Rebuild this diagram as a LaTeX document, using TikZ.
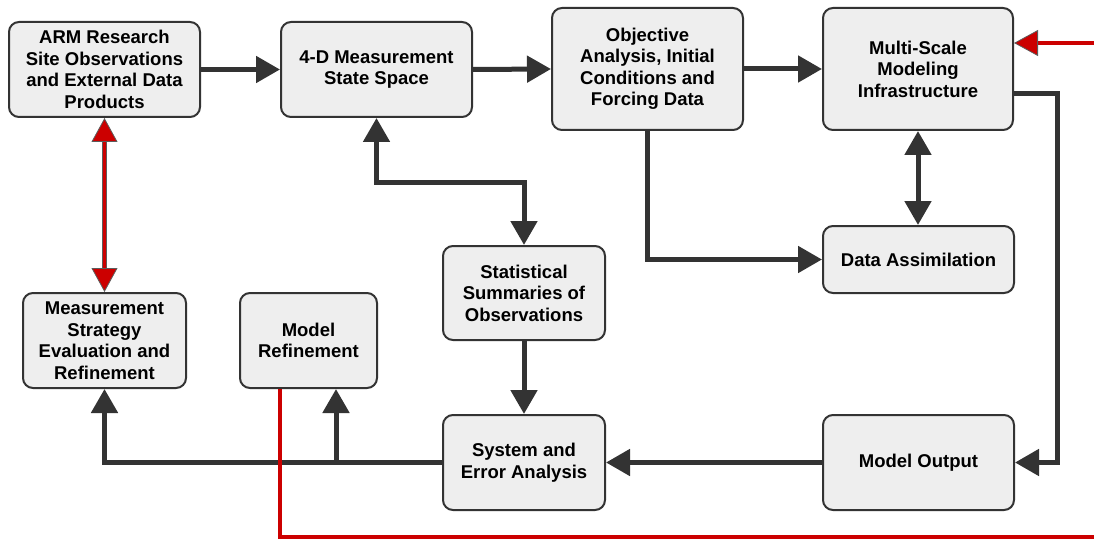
\documentclass[tikz,border=0pt]{standalone}
\usepackage{fontspec}
\setmainfont{Liberation Sans}
\usetikzlibrary{arrows.meta,calc}
\definecolor{linegray}{HTML}{333333}
\definecolor{boxfill}{HTML}{EEEEEE}
\definecolor{myred}{HTML}{CC0000}
\tikzset{
  box/.style={draw=linegray, line width=2pt, fill=boxfill, rounded corners=10pt,
    align=center, inner sep=0pt, text=black,
    font=\fontsize{18.5}{21.5}\selectfont\bfseries},
  tipdark/.tip={Triangle[length=24pt,width=26pt]},
  conn/.style={draw=linegray, line width=5pt},
  arr/.style={conn, -tipdark},
  darr/.style={conn, tipdark-tipdark},
  tipred/.tip={Triangle[length=24pt,width=26pt,line width=0.8pt,color=linegray!80,fill=myred]},
  redline/.style={draw=myred, line width=4.5pt},
}
\begin{document}
\begin{tikzpicture}[x=1pt,y=-1pt]
\useasboundingbox (0,0) rectangle (1094,540);
% boxes
\node[box, minimum width=191pt, minimum height=95pt] (A) at (104.5,69.5) {ARM Research\\Site Observations\\and External Data\\Products};
\node[box, minimum width=191pt, minimum height=95pt] (B) at (376.5,69.5) {4-D Measurement\\State Space};
\node[box, minimum width=191pt, minimum height=122pt] (C) at (647.5,69) {Objective\\Analysis, Initial\\Conditions and\\Forcing Data};
\node[box, minimum width=190pt, minimum height=122pt] (D) at (918,69) {Multi-Scale\\Modeling\\Infrastructure};
\node[box, minimum width=191pt, minimum height=67pt] (E) at (918.5,259.5) {Data Assimilation};
\node[box, minimum width=162pt, minimum height=94pt] (F) at (524,293) {Statistical\\Summaries of\\Observations};
\node[box, minimum width=163pt, minimum height=95pt] (G) at (104.5,340.5) {Measurement\\Strategy\\Evaluation and\\Refinement};
\node[box, minimum width=137pt, minimum height=95pt] (H) at (308.5,340.5) {Model\\Refinement};
\node[box, minimum width=162pt, minimum height=95pt] (I) at (524,462.5) {System and\\Error Analysis};
\node[box, minimum width=191pt, minimum height=95pt] (J) at (918.5,462.5) {Model Output};
% free ends and branch points
\coordinate (rin) at (1094,43);
\coordinate (rout) at (1094,537);
\coordinate (hr) at ([xshift=27.5pt]H.south);
\coordinate (hl) at ([xshift=-28.5pt]H.south);
\coordinate (dr) at ([yshift=-25pt]D.east);
% dark connectors
\draw[arr] (A.east) -- (B.west);
\draw[arr] (B.east) -- (C.west);
\draw[arr] (C.east) -- (D.west);
\draw[darr] (B.south) -- ++(0,65) -| (F.north);
\draw[arr] (C.south) |- (E.west);
\draw[darr] (D.south) -- (D.south |- E.north);
\draw[arr] (dr) -- ++(43,0) |- (J.east);
\draw[arr] (J.west) -- (I.east);
\draw[arr] (F.south) -- (I.north);
\draw[arr] (I.west) -| (G.south);
\draw[arr] (I.west -| hr) -- (hr);
% red connectors
\draw[redline, -tipred] (rin) -- (rin -| D.east);
\draw[draw=linegray!80, line width=5.5pt, shorten <=20pt, shorten >=20pt] (A.south) -- (G.north);
\draw[redline, line width=3.5pt, tipred-tipred] (A.south) -- (G.north);
\draw[redline] (hl) |- (rout);
\end{tikzpicture}
\end{document}
